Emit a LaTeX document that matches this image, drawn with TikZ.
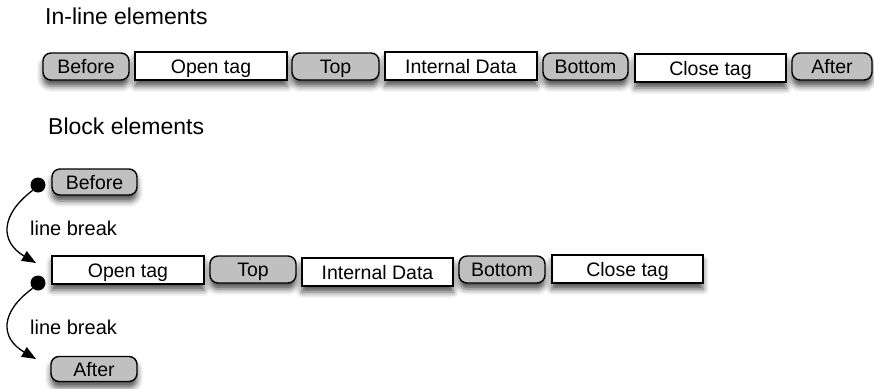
\documentclass[tikz,border=0pt]{standalone}
\usepackage{fontspec}
\setmainfont{Liberation Sans}
\usetikzlibrary{arrows.meta,shadows.blur}
\begin{document}
\begin{tikzpicture}[x=1pt,y=-1pt,
  shad/.style={blur shadow={shadow xshift=0pt,shadow yshift=-6pt,shadow blur radius=6pt,shadow opacity=70}},
  boxtext/.style={font=\fontsize{19.5}{22}\selectfont,inner sep=0pt,text height=14pt,text depth=0pt},
  gbox/.style={boxtext,draw=black,line width=1.4pt,fill={rgb,255:red,192;green,192;blue,192},rounded corners=8pt,shad},
  wbox/.style={boxtext,draw=black,line width=1.4pt,fill=white,shad},
  header/.style={font=\fontsize{23}{26}\selectfont,inner sep=0pt,anchor=base west},
  lbl/.style={font=\fontsize{20}{23}\selectfont,inner sep=0pt,text height=14.5pt,text depth=0pt,anchor=west},
  dotnode/.style={circle,fill=black,inner sep=0pt,minimum size=15pt},
  brk/.style={line width=1.3pt,-{Triangle[length=14pt,width=11pt]}}
]
\useasboundingbox (0,0) rectangle (874,388);

% In-line elements
\node[header] (h1) at (45,24) {In-line elements};
\node[gbox,minimum width=86pt,minimum height=27pt] (before1) at (86,66.5) {Before};
\node[wbox,minimum width=152pt,minimum height=28pt] (open1) at (211,66) {Open tag};
\node[gbox,minimum width=87pt,minimum height=27pt] (top1) at (335.5,66.5) {Top};
\node[wbox,minimum width=152pt,minimum height=28pt] (data1) at (461,66) {Internal Data};
\node[gbox,minimum width=85pt,minimum height=27pt] (bottom1) at (585.5,66.5) {Bottom};
\node[wbox,minimum width=151pt,minimum height=28pt] (close1) at (710.5,68) {Close tag};
\node[gbox,minimum width=80pt,minimum height=27pt] (after1) at (832,66.5) {After};

% Block elements
\node[header] (h2) at (48,134) {Block elements};
\node[gbox,minimum width=85pt,minimum height=26pt] (before2) at (94.5,182) {Before};
\node[dotnode] (d1) at (38,185) {};
\coordinate (t1) at (36,263);
\draw[brk] (d1.south west) .. controls (0,215) and (0,242) .. (t1);
\node[lbl] (lb1) at (30,228) {line break};

\node[wbox,minimum width=152pt,minimum height=28pt] (open2) at (128,270) {Open tag};
\node[gbox,minimum width=86pt,minimum height=27pt] (top2) at (253,269.5) {Top};
\node[wbox,minimum width=151pt,minimum height=28pt] (data2) at (377.5,272) {Internal Data};
\node[gbox,minimum width=86pt,minimum height=27pt] (bottom2) at (502,269.5) {Bottom};
\node[wbox,minimum width=151pt,minimum height=28pt] (close2) at (627.5,269) {Close tag};

\node[dotnode] (d2) at (38,283) {};
\coordinate (t2) at (36,359);
\draw[brk] (d2.south west) .. controls (0,312) and (0,338) .. (t2);
\node[lbl] (lb2) at (30,327) {line break};

\node[gbox,minimum width=86pt,minimum height=25pt] (after2) at (94,369) {After};
\end{tikzpicture}
\end{document}
